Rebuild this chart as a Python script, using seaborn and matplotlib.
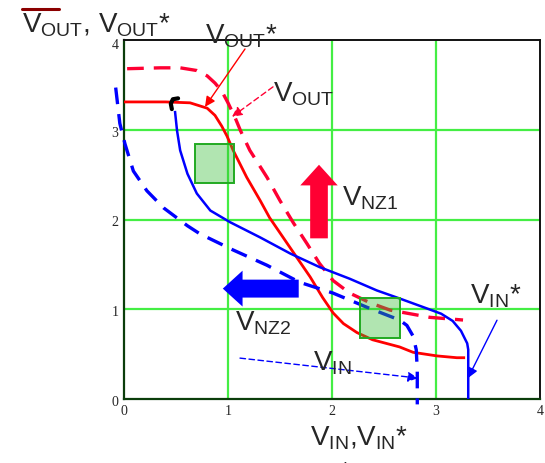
import numpy as np
import pandas as pd
import matplotlib
matplotlib.use("Agg")
import matplotlib.pyplot as plt
from matplotlib.patches import Rectangle, FancyArrow, FancyArrowPatch
from matplotlib.lines import Line2D
from matplotlib.transforms import offset_copy
import seaborn as sns

# ---- curve data (x, y in volts) ----
vout_star_x = [0.00, 0.40, 0.635, 0.80, 0.875, 0.94, 0.99, 1.05, 1.18, 1.31, 1.40, 1.53, 1.66, 1.79, 1.91,
               2.01, 2.11, 2.24, 2.39, 2.65, 2.78, 3.01, 3.20, 3.28]
vout_star_y = [3.31, 3.31, 3.30, 3.24, 3.16, 3.04, 2.93, 2.77, 2.47, 2.21, 2.02, 1.80, 1.58, 1.36, 1.13,
               0.96, 0.84, 0.74, 0.66, 0.58, 0.52, 0.48, 0.46, 0.46]

vout_x = [0.03, 0.35, 0.54, 0.70, 0.80, 0.875, 0.94, 1.00, 1.07, 1.12, 1.21, 1.375, 1.50, 1.63, 1.76, 1.88,
          2.01, 2.17, 2.37, 2.56, 2.94, 3.26]
vout_y = [3.68, 3.69, 3.69, 3.66, 3.60, 3.52, 3.43, 3.30, 3.13, 2.99, 2.77, 2.47, 2.21, 1.96, 1.73, 1.51,
          1.32, 1.18, 1.07, 0.99, 0.91, 0.88]

vin_star_x = [0.49, 0.51, 0.54, 0.61, 0.70, 0.83, 1.02, 1.31, 1.60, 1.88, 2.17, 2.43, 2.65, 2.91, 3.05,
              3.16, 3.24, 3.30, 3.31, 3.31]
vin_star_y = [3.21, 2.99, 2.77, 2.51, 2.29, 2.10, 1.97, 1.80, 1.62, 1.47, 1.34, 1.21, 1.12, 1.01, 0.95,
              0.87, 0.76, 0.62, 0.55, 0.00]

vin_x = [-0.08, -0.04, 0.01, 0.09, 0.22, 0.38, 0.61, 0.73, 1.05, 1.375, 1.69, 2.01, 2.34, 2.65, 2.72,
         2.78, 2.81, 2.82, 2.82]
vin_y = [3.47, 3.07, 2.84, 2.54, 2.32, 2.13, 1.93, 1.84, 1.66, 1.49, 1.30, 1.18, 1.02, 0.88, 0.82,
         0.70, 0.55, 0.32, -0.06]

# start-point marker on the V_IN* curve
cap_x = [0.52, 0.47, 0.45, 0.46]
cap_y = [3.35, 3.34, 3.29, 3.23]

# noise-margin boxes: (x0, y0, width, height)
boxes = [(0.68, 2.41, 0.38, 0.43), (2.27, 0.68, 0.38, 0.44)]

ticks = [0, 1, 2, 3, 4]

RED = "#ff0000"
RED2 = "#ff0033"
BLUE = "#0000ff"
GRID = "#44ee44"

sns.set_style("white")
plt.rcParams["font.family"] = ["Liberation Sans", "DejaVu Sans"]
plt.rcParams["mathtext.fontset"] = "custom"
plt.rcParams["mathtext.rm"] = "Liberation Sans"

fig = plt.figure(figsize=(5.45, 4.63), dpi=100)
ax = fig.add_axes([124 / 545, 1 - 399 / 463, 416 / 545, 359 / 463])
ax.set_xlim(0, 4)
ax.set_ylim(0, 4)

# grid
for g in [1, 2, 3]:
    ax.axvline(g, color=GRID, lw=1.6, zorder=1)
    ax.axhline(g, color=GRID, lw=1.6, zorder=1)

def curve(x, y, color, lw, dashes=None, z=3):
    df = pd.DataFrame({"x": x, "y": y})
    sns.lineplot(data=df, x="x", y="y", sort=False, estimator=None, color=color,
                 lw=lw, ax=ax, clip_on=False, zorder=z)
    ln = ax.lines[-1]
    if dashes:
        ln.set_dashes(dashes)
    ln.set_solid_capstyle("butt")
    ln.set_dash_capstyle("butt")
    ln.set_solid_joinstyle("round")

curve(vout_star_x, vout_star_y, RED, 2.0)
curve(vout_x, vout_y, RED2, 2.4, dashes=(5, 3))
curve(vin_star_x, vin_star_y, BLUE, 1.8)
curve(vin_x, vin_y, BLUE, 2.4, dashes=(5, 3))
curve(cap_x, cap_y, "black", 3.0, z=4)
ax.lines[-1].set_solid_capstyle("round")

for (bx, by, bw, bh) in boxes:
    ax.add_patch(Rectangle((bx, by), bw, bh, facecolor="#33bb33", alpha=0.38,
                           edgecolor="none", zorder=5))
    ax.add_patch(Rectangle((bx, by), bw, bh, facecolor="none",
                           edgecolor="#22aa22", lw=1.4, zorder=5))

# big shift arrows
ax.add_patch(FancyArrow(1.875, 1.79, 0, 0.82, width=0.17, head_width=0.36,
                        head_length=0.23, length_includes_head=True,
                        color=RED2, lw=0, zorder=6))
ax.add_patch(FancyArrow(1.68, 1.23, -0.73, 0, width=0.2, head_width=0.4,
                        head_length=0.19, length_includes_head=True,
                        color=BLUE, lw=0, zorder=6))

# pointer arrows
def pointer(p0, p1, color, ls="-"):
    ax.add_patch(FancyArrowPatch(p0, p1, arrowstyle="-|>,head_length=6,head_width=3",
                                 color=color, lw=1.0, linestyle=ls,
                                 shrinkA=0, shrinkB=0, clip_on=False, zorder=7))

def d(px, py):
    return ((px - 124) / 104, (399 - py) / 90)

pointer(d(245, 48), d(205, 106), RED)
pointer(d(273, 86), d(232, 116), RED2, ls=(0, (4, 2.5)))
pointer(d(497, 320), d(468, 378), BLUE)
pointer(d(240, 358), d(418, 378), BLUE, ls=(0, (4, 2.5)))

# curve labels
FS = 20
def label(x, y, s):
    ax.text(x, y, s, fontsize=FS, ha="left", va="baseline", clip_on=False, zorder=8)

label(0.78, 3.96, r"V$_{\mathregular{OUT}}$*")
label(1.43, 3.32, r"V$_{\mathregular{OUT}}$")
label(2.10, 2.16, r"V$_{\mathregular{NZ1}}$")
label(1.07, 0.77, r"V$_{\mathregular{NZ2}}$")
label(1.82, 0.32, r"V$_{\mathregular{IN}}$")
label(3.33, 1.07, r"V$_{\mathregular{IN}}$*")
label(1.79, -0.51, r"V$_{\mathregular{IN}}$,V$_{\mathregular{IN}}$*")
label(2.07, -0.90, "*")
label(-0.98, 4.09, r"V$_{\mathregular{OUT}}$, V$_{\mathregular{OUT}}$*")
fig.add_artist(Line2D([22 / 545, 59 / 545], [1 - 9 / 463, 1 - 9 / 463],
                      color="#8b0000", lw=2.2))

# axes frame and ticks
ax.set_xticks(ticks)
ax.set_yticks(ticks)
ax.set_xticklabels([str(t) for t in ticks], family="Liberation Serif", fontsize=10)
ax.set_yticklabels([str(t) for t in ticks], family="Liberation Serif", fontsize=10)
ax.tick_params(length=0, pad=4)
# y labels sit slightly below their grid lines; the top one hangs from the frame
for lab in ax.get_yticklabels():
    lab.set_transform(offset_copy(lab.get_transform(), fig=fig, x=0, y=-2, units="dots"))
ax.get_yticklabels()[-1].set_va("top")
ax.get_yticklabels()[-1].set_transform(offset_copy(ax.get_yaxis_transform(which="tick1"),
                                                   fig=fig, x=-5, y=1, units="dots"))
ax.set_xlabel("")
ax.set_ylabel("")
for side in ["left", "bottom"]:
    ax.spines[side].set_color("#0b3d0b")
    ax.spines[side].set_linewidth(1.6)
for side in ["top", "right"]:
    ax.spines[side].set_color("#111111")
    ax.spines[side].set_linewidth(1.4)
    ax.spines[side].set_visible(True)

fig.savefig("out.png", dpi=100)
